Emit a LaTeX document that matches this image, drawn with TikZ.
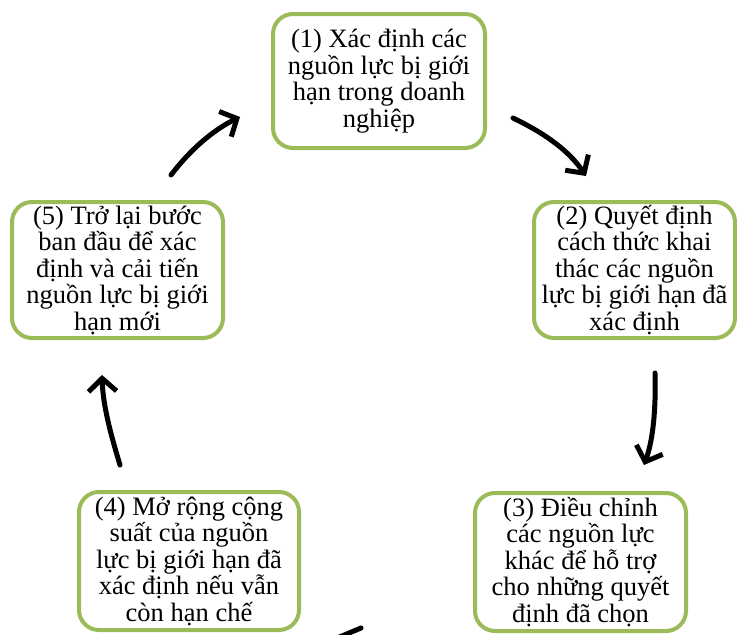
\documentclass[tikz,border=0pt]{standalone}
\usepackage{fontspec}
\setmainfont{Liberation Serif}
\usetikzlibrary{arrows.meta}
\definecolor{boxgreen}{RGB}{155,187,89}
\tikzset{
  stepbox/.style={draw=boxgreen, line width=4pt, rounded corners=20pt, fill=white,
    align=center, inner sep=0pt, font=\fontsize{26.5}{26.5}\selectfont},
  flow/.style={line width=5pt, line cap=round, line join=round,
    -{Straight Barb[length=13pt,width=28pt,line width=5pt]}}
}
\begin{document}
\begin{tikzpicture}[x=1pt,y=-1pt]
\useasboundingbox (0,0) rectangle (737,635);
\clip (0,0) rectangle (737,635);
\node[stepbox, minimum width=212pt, minimum height=134pt] (b1) at (379,81)
  {(1) Xác định các\\nguồn lực bị giới\\hạn trong doanh\\nghiệp};
\node[stepbox, minimum width=201pt, minimum height=136pt] (b2) at (634.5,270)
  {(2) Quyết định\\cách thức khai\\thác các nguồn\\lực bị giới hạn đã\\xác định};
\node[stepbox, minimum width=211pt, minimum height=138pt] (b3) at (580.5,562)
  {(3) Điều chỉnh\\các nguồn lực\\khác để hỗ trợ\\cho những quyết\\định đã chọn};
\node[stepbox, minimum width=220pt, minimum height=138pt] (b4) at (189,561)
  {(4) Mở rộng cộng\\suất của nguồn\\lực bị giới hạn đã\\xác định nếu vẫn\\còn hạn chế};
\node[stepbox, minimum width=211pt, minimum height=136pt] (b5) at (117.5,270)
  {(5) Trở lại bước\\ban đầu để xác\\định và cải tiến\\nguồn lực bị giới\\hạn mới};
\coordinate (a12s) at (513,118);
\coordinate (a12e) at (586,176);
\coordinate (a23s) at (655,373);
\coordinate (a23e) at (644,465);
\coordinate (a34s) at (361,628);
\coordinate (a34e) at (330,641);
\coordinate (a45s) at (120,465);
\coordinate (a45e) at (102,375);
\coordinate (a51s) at (171,175);
\coordinate (a51e) at (240,117);
\draw[flow] (a12s) .. controls (540,131) and (567,148) .. (a12e);
\draw[flow] (a23s) .. controls (656,410) and (653,440) .. (a23e);
\draw[line width=5pt, line cap=round] (a34s) -- (a34e);
\draw[flow] (a45s) .. controls (110,432) and (103,405) .. (a45e);
\draw[flow] (a51s) .. controls (190,150) and (213,130) .. (a51e);
\end{tikzpicture}
\end{document}
